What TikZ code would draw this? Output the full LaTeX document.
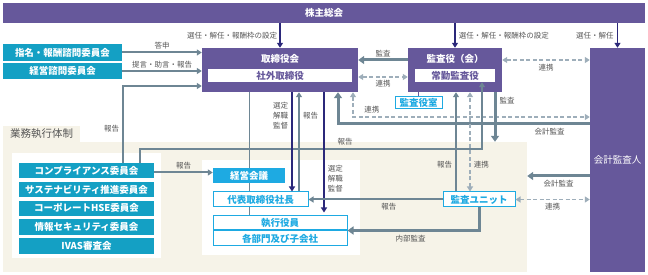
\documentclass[tikz,border=0pt]{standalone}
\usepackage{fontspec}
\setmainfont{Noto Sans CJK JP}
\usetikzlibrary{arrows.meta,positioning,calc}
\definecolor{kpurple}{RGB}{102,88,155}
\definecolor{knavy}{RGB}{43,40,122}
\definecolor{kgray}{RGB}{110,134,148}
\definecolor{klight}{RGB}{158,174,186}
\definecolor{kteal}{RGB}{20,160,196}
\definecolor{kcyan}{RGB}{30,170,226}
\definecolor{kbeige}{RGB}{246,243,232}
\definecolor{ktext}{RGB}{85,85,85}
\pgfdeclarelayer{back}
\pgfdeclarelayer{mid}
\pgfsetlayers{back,mid,main}

\begin{document}
\begin{tikzpicture}[x=1pt, y=-1pt,
    pbox/.style={fill=kpurple, inner sep=0pt, text=white, font=\bfseries\fontsize{9.5}{11}\selectfont},
    wbox/.style={fill=white, inner sep=0pt, text=kpurple, font=\bfseries\fontsize{9.5}{11}\selectfont},
    tbox/.style={fill=kteal, inner sep=0pt, text=white, minimum width=135pt, minimum height=15.5pt, font=\bfseries\fontsize{9.5}{11}\selectfont},
    cbox/.style={draw=kcyan, line width=1pt, fill=white, inner sep=0pt, text=kcyan, font=\bfseries\fontsize{9.5}{11}\selectfont},
    lbl/.style={text=ktext, inner sep=0pt, font=\fontsize{7.5}{10}\selectfont},
    garrow/.style={draw=kgray, line width=2pt, -{Triangle[width=6pt,length=5pt]}},
    gthick/.style={draw=kgray, line width=3pt, -{Triangle[width=8pt,length=6pt]}},
    narrow/.style={draw=knavy, line width=1.6pt, -{Triangle[width=6pt,length=5pt]}},
    dlink/.style={draw=klight, line width=1.6pt, dash pattern=on 4pt off 2.5pt, {Triangle[width=6pt,length=5pt]}-{Triangle[width=6pt,length=5pt]}}]

    \useasboundingbox (0,0) rectangle (648,275);

    % Execution area
    \begin{pgfonlayer}{back}
    \node[fill=kbeige, inner sep=0pt, minimum width=524pt, minimum height=130pt] (exec) at (265,207) {};
    \node[fill=kbeige, inner sep=0pt, minimum width=77pt, minimum height=16pt, text=ktext, font=\fontsize{10.5}{12}\selectfont] (execT) at (41.5,134) {業務執行体制};
    \node[fill=white, inner sep=0pt, minimum width=149pt, minimum height=105pt] (panelL) at (86.5,205.5) {};
    \node[fill=white, inner sep=0pt, minimum width=158pt, minimum height=95pt] (panelR) at (281,207.5) {};
    \end{pgfonlayer}

    % Top
    \node[pbox, minimum width=642pt, minimum height=20pt] (kabu) at (324,13) {株主総会};

    % Advisory committees
    \node[tbox, minimum width=119pt, minimum height=17pt] (shimei) at (62.5,52.5) {指名・報酬諮問委員会};
    \node[tbox, minimum width=119pt, minimum height=16pt] (keiei) at (62.5,71) {経営諮問委員会};

    % Board
    \node[pbox, minimum width=156pt, minimum height=44pt] (tori) at (280,70) {};
    \node[pbox] (toriT) at (280,59) {取締役会};
    \node[wbox, minimum width=144pt, minimum height=13pt] (shagai) at (280,75.5) {社外取締役};

    % Auditors
    \node[pbox, minimum width=94pt, minimum height=44pt] (kansa) at (455,70) {};
    \node[pbox] (kansaT) at (455,59) {監査役（会）};
    \node[wbox, minimum width=80pt, minimum height=13pt] (jokin) at (455,75.5) {常勤監査役};
    \node[cbox, minimum width=47pt, minimum height=12pt] (shitsu) at (418.5,103) {監査役室};
    \node[pbox, font=\fontsize{9.5}{11}\selectfont, minimum width=55pt, minimum height=224pt] (kaikei) at (617.5,160) {会計監査人};

    % Committees
    \node[tbox] (comp) at (86.5,170.5) {コンプライアンス委員会};
    \node[tbox, below=3pt of comp] (sust) {サステナビリティ推進委員会};
    \node[tbox, below=3pt of sust] (hse) {コーポレートHSE委員会};
    \node[tbox, below=3pt of hse] (info) {情報セキュリティ委員会};
    \node[tbox, below=3pt of info] (ivas) {IVAS審査会};

    % Management
    \node[fill=kcyan, inner sep=0pt, text=white, font=\bfseries\fontsize{9.5}{11}\selectfont, minimum width=72pt, minimum height=15pt] (kaigi) at (249,175.5) {経営会議};
    \node[cbox, minimum width=95pt, minimum height=15pt] (daihyo) at (260.5,199.5) {代表取締役社長};
    \node[cbox, minimum width=134pt, minimum height=14pt] (shikko) at (280,223) {執行役員};
    \node[cbox, minimum width=134pt, minimum height=15pt, below=0pt of shikko] (bumon) {各部門及び子会社};
    \node[cbox, minimum width=72pt, minimum height=15pt] (unit) at (479,199.5) {監査ユニット};

    % Helper coordinates
    \coordinate (dashY) at (0,117);
    \coordinate (auditY) at (0,124);
    \coordinate (rep2Y) at (0,149);
    \coordinate (kaiY) at (0,176);
    \coordinate (compUp) at ([xshift=36.5pt]comp.north);
    \coordinate (compUp2) at ([xshift=53.5pt]comp.north);
    \coordinate (jokinIn) at ([xshift=27pt]jokin.south);
    \coordinate (toriLink) at ([xshift=73pt]tori.south);
    \coordinate (toriAudit) at ([xshift=58pt]tori.south);
    \coordinate (toriSel) at ([xshift=12pt]tori.south);
    \coordinate (toriRep) at ([xshift=19pt]tori.south);
    \coordinate (toriSel2) at ([xshift=44pt]tori.south);
    \coordinate (toriLine) at ([xshift=-31pt]tori.south);
    \coordinate (kansaOut) at ([xshift=40pt]kansa.south);
    \coordinate (kansaRep) at ([xshift=1pt]kansa.south);
    \coordinate (kansaLink) at ([xshift=15pt]kansa.south);

    % Connections
    \draw[narrow] (tori.north |- kabu.south) -- node[lbl, midway, left=2pt] {選任・解任・報酬枠の設定} (tori.north);
    \draw[narrow] (kansa.north |- kabu.south) -- node[lbl, midway, right=3pt] {選任・解任・報酬枠の設定} (kansa.north);
    \draw[narrow] (kaikei.north |- kabu.south) -- node[lbl, midway, left=3pt] {選任・解任} (kaikei.north);

    \draw[garrow] (shimei.east) -- node[lbl, midway, above=2pt] {答申} (shimei.east -| tori.west);
    \draw[garrow] (keiei.east) -- node[lbl, midway, above=2pt] {提言・助言・報告} (keiei.east -| tori.west);
    \draw[garrow] (compUp) |- node[lbl, pos=0.22, left=3pt] {報告} ([yshift=-16pt]tori.west);

    \draw[gthick] ([yshift=10pt]kansa.west) -- node[lbl, midway, above=2pt] {監査} ([yshift=10pt]tori.east);
    \draw[dlink] ([yshift=-7pt]tori.east) -- node[lbl, midway, below=2pt] {連携} ([yshift=-7pt]kansa.west);
    \draw[dlink] ([yshift=10pt]kansa.east) -- node[lbl, midway, below=3pt] {連携} ([yshift=10pt]kansa.east -| kaikei.west);
    \draw[kpurple, line width=1pt] (kansa.south -| shitsu.north) -- (shitsu.north);

    \draw[dlink] (toriLink) |- node[lbl, pos=0.54, above=3pt] {連携} (kaikei.west |- dashY);
    \draw[gthick] (kaikei.west |- auditY) -| node[lbl, pos=0.08, below=3pt] {会計監査} (toriAudit);
    \draw[gthick] (kansaOut) -- node[lbl, pos=0.16, right=3pt] {監査} (kansaOut |- exec.north);

    \draw[garrow] (kansaRep |- unit.north) -- node[lbl, pos=0.27, left=3pt] {報告} (kansaRep);
    \draw[dlink] (kansaLink |- unit.north) -- node[lbl, pos=0.27, right=3pt] {連携} (kansaLink);
    \draw[garrow] (compUp2) |- node[lbl, pos=0.8, above=3pt] {報告} (rep2Y -| jokinIn) -- (jokinIn);
    \draw[garrow] ([yshift=-2pt]comp.east) -- node[lbl, midway, above=2pt] {報告} ([yshift=-2pt]comp.east -| kaigi.west);

    \begin{pgfonlayer}{mid}
    \draw[kgray, line width=1pt] (toriLine) -- (toriLine |- shikko.north);
    \end{pgfonlayer}
    \draw[narrow] (toriSel) -- node[lbl, pos=0.24, left=3pt, align=center] {選定\\解職\\監督} (toriSel |- daihyo.north);
    \draw[garrow] (toriRep |- daihyo.north) -- node[lbl, pos=0.76, right=3pt] {報告} (toriRep);
    \draw[narrow] (toriSel2) -- node[lbl, pos=0.72, right=3pt, align=center] {選定\\解職\\監督} ([yshift=3pt]toriSel2 |- shikko.north);

    \draw[gthick] (kaikei.west |- kaiY) -- node[lbl, midway, below=3pt] {会計監査} (exec.east |- kaiY);
    \draw[dlink] (unit.east) -- node[lbl, midway, below=3pt] {連携} (unit.east -| kaikei.west);
    \draw[garrow] (unit.west) -- node[lbl, pos=0.4, below=3pt] {報告} (unit.west -| daihyo.east);
    \draw[gthick] (unit.south) |- node[lbl, pos=0.76, below=3pt] {内部監査} (shikko.south east);

\end{tikzpicture}
\end{document}
